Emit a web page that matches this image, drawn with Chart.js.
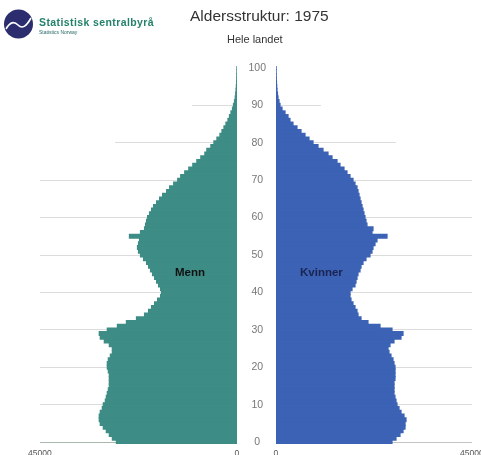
<!DOCTYPE html>
<html>
<head>
<meta charset="utf-8">
<script src="https://cdn.jsdelivr.net/npm/chart.js@4/dist/chart.umd.min.js"></script>
<style>
  html, body { margin:0; padding:0; background:#fff; overflow:hidden; }
  #wrap { position:relative; width:481px; height:455px; overflow:hidden; background:#fff; font-family:"Liberation Sans", Arial, sans-serif; }
  canvas { position:absolute; top:0; }
  .txt { position:absolute; white-space:nowrap; }
</style>
</head>
<body>
<div id="wrap">
  <canvas id="left" width="240" height="455" style="left:0px"></canvas>
  <canvas id="right" width="244" height="455" style="left:237px"></canvas>
  <svg class="txt" style="left:0;top:0" width="40" height="45">
    <circle cx="18.5" cy="24" r="14.5" fill="#2b2d6e"/>
    <path d="M6,29 C10,22 14,21 18,25 S26,27 31,18" stroke="#fff" stroke-width="1.6" fill="none"/>
  </svg>
  <div class="txt" style="left:39px;top:16px;font-size:10.5px;letter-spacing:0.4px;font-weight:bold;color:#23806a;">Statistisk sentralbyrå</div>
  <div class="txt" style="left:39px;top:29px;font-size:5px;color:#2a6a6a;">Statistics Norway</div>
  <div class="txt" style="left:190px;top:7px;font-size:15.5px;color:#333;">Aldersstruktur: 1975</div>
  <div class="txt" style="left:227px;top:33px;font-size:11px;color:#333;">Hele landet</div>
  <div class="txt" style="left:175px;top:266px;font-size:11.5px;font-weight:bold;color:#111;">Menn</div>
  <div class="txt" style="left:300px;top:266px;font-size:11.5px;font-weight:bold;color:#1b2350;">Kvinner</div>
  <div class="txt" id="xl0" style="top:448px;font-size:8.5px;color:#555;"></div>
  <div class="txt" id="xl1" style="top:448px;font-size:8.5px;color:#555;"></div>
  <div class="txt" id="xl2" style="top:448px;font-size:8.5px;color:#555;"></div>
  <div class="txt" id="xl3" style="top:448px;font-size:8.5px;color:#555;"></div>
</div>
<script>
const ages = Array.from({length:101}, (_, i) => i);
const xTicks = [0, 45000];
const menn = [
27550,28470,29160,29850,30540,31230,31460,31460,31230,30770,
30540,30080,29850,29620,29390,29160,29160,29160,29160,29390,
29620,29620,29390,28930,28470,28470,29160,30310,31230,31460,
29620,27320,25260,22960,21120,20200,19520,18830,18140,17450,
17220,17450,17910,18370,18830,19290,19750,20200,20660,21350,
22040,22500,22730,22500,22270,24570,22040,21120,20890,20660,
20430,19980,19520,19060,18370,17680,16990,16070,15380,14460,
13550,12860,11940,11020,10100,9180,8270,7350,6890,5970,
5280,4590,3900,3440,2980,2530,2070,1720,1380,1030,
800,570,410,300,210,140,90,60,40,25,
20];
const kvinner = [
26630,27550,28470,29160,29620,29620,29850,29390,28700,28240,
27780,27550,27320,27090,27090,27090,27090,27320,27320,27320,
27320,27090,26860,26400,25940,25720,26170,27090,28700,29160,
26630,23880,21120,19520,18830,18600,18140,17680,17220,16990,
16990,17450,18140,18370,18600,18830,19290,19520,19980,20660,
21580,22040,22270,22730,23190,25490,22040,22270,20890,20660,
20430,20200,19980,19750,19520,19290,19060,18830,18600,18140,
17680,16990,16300,15610,14690,14010,12860,11940,10790,9640,
8500,7580,6660,5740,4820,3900,3210,2760,2070,1380,
920,690,460,340,230,160,110,70,45,30,
30];

const GRID = '#dcdcdc';
function gridColor(fadeMap, side, baseColor) {
  return (c) => {
    const a = ages[c.tick ? c.tick.value : c.index];
    if (a === undefined || a % 10 !== 0 || a === 100) return 'rgba(0,0,0,0)';
    if (a === 0) return baseColor;
    const f = fadeMap[a];
    if (f === undefined) return GRID;
    const area = c.chart.chartArea;
    if (!area) return GRID;
    const g = c.chart.ctx.createLinearGradient(area.left, 0, area.right, 0);
    if (side === 'left') {
      g.addColorStop(0, 'rgba(0,0,0,0)'); g.addColorStop(f, 'rgba(0,0,0,0)');
      g.addColorStop(Math.min(1, f + 0.001), GRID); g.addColorStop(1, GRID);
    } else {
      g.addColorStop(0, GRID); g.addColorStop(f, GRID);
      g.addColorStop(Math.min(1, f + 0.001), 'rgba(0,0,0,0)'); g.addColorStop(1, 'rgba(0,0,0,0)');
    }
    return g;
  };
}

// x-axis end labels placed from the library's own scale
const xLabelPlugin = (ids, offsetX) => ({
  id: 'xlab',
  afterRender(chart) {
    const s = chart.scales.x;
    xTicks.forEach((v, i) => {
      const el = document.getElementById(ids[i]);
      el.textContent = String(v);
      const px = s.getPixelForValue(v) + offsetX;
      el.style.left = (px - el.offsetWidth / 2) + 'px';
    });
  }
});

function xScale(reverse) {
  return { type: 'linear', min: 0, max: 45000, reverse: reverse, display: false };
}

function dataset(values, color) {
  return { data: values, backgroundColor: color, borderWidth: 0, inflateAmount: 0.6,
           barPercentage: 1, categoryPercentage: 1 };
}

new Chart(document.getElementById('left'), {
  type: 'bar',
  data: { labels: ages, datasets: [dataset(menn, '#3d8c85')] },
  options: {
    indexAxis: 'y', responsive: false, animation: false,
    layout: { padding: { top: 66, left: 40, right: 3, bottom: 11 } },
    plugins: { legend: { display: false }, tooltip: { enabled: false } },
    scales: {
      x: xScale(true),
      y: {
        type: 'category', reverse: true, position: 'right',
        grid: { offset: false, drawTicks: false, color: gridColor({80: 0.38, 90: 0.77}, 'left', '#a9b7ad'), lineWidth: 1 },
        border: { display: false },
        ticks: { display: false, autoSkip: false },
        afterFit: (s) => { s.width = 0; s.paddingTop = 0; s.paddingBottom = 0; }
      }
    }
  },
  plugins: [xLabelPlugin(['xl0', 'xl1'], 0)]
});

new Chart(document.getElementById('right'), {
  type: 'bar',
  data: { labels: ages, datasets: [dataset(kvinner, '#3b62b4')] },
  options: {
    indexAxis: 'y', responsive: false, animation: false,
    layout: { padding: { top: 66, left: 0, right: 9, bottom: 11 } },
    plugins: { legend: { display: false }, tooltip: { enabled: false } },
    scales: {
      x: xScale(false),
      y: {
        type: 'category', reverse: true, position: 'left',
        grid: { offset: false, drawTicks: false, color: gridColor({80: 0.61, 90: 0.23}, 'right', '#c4c4c4'), lineWidth: 1 },
        border: { display: false },
        ticks: { autoSkip: false, crossAlign: 'center', padding: 10, color: '#777',
                 font: { size: 10.5, family: 'Liberation Sans' },
                 callback: (v, i) => (ages[i] % 10 === 0 ? String(ages[i]) : '') },
        afterFit: (s) => { s.width = 39; s.paddingTop = 0; s.paddingBottom = 0; }
      }
    }
  },
  plugins: [xLabelPlugin(['xl2', 'xl3'], 237)]
});
</script>
</body>
</html>
